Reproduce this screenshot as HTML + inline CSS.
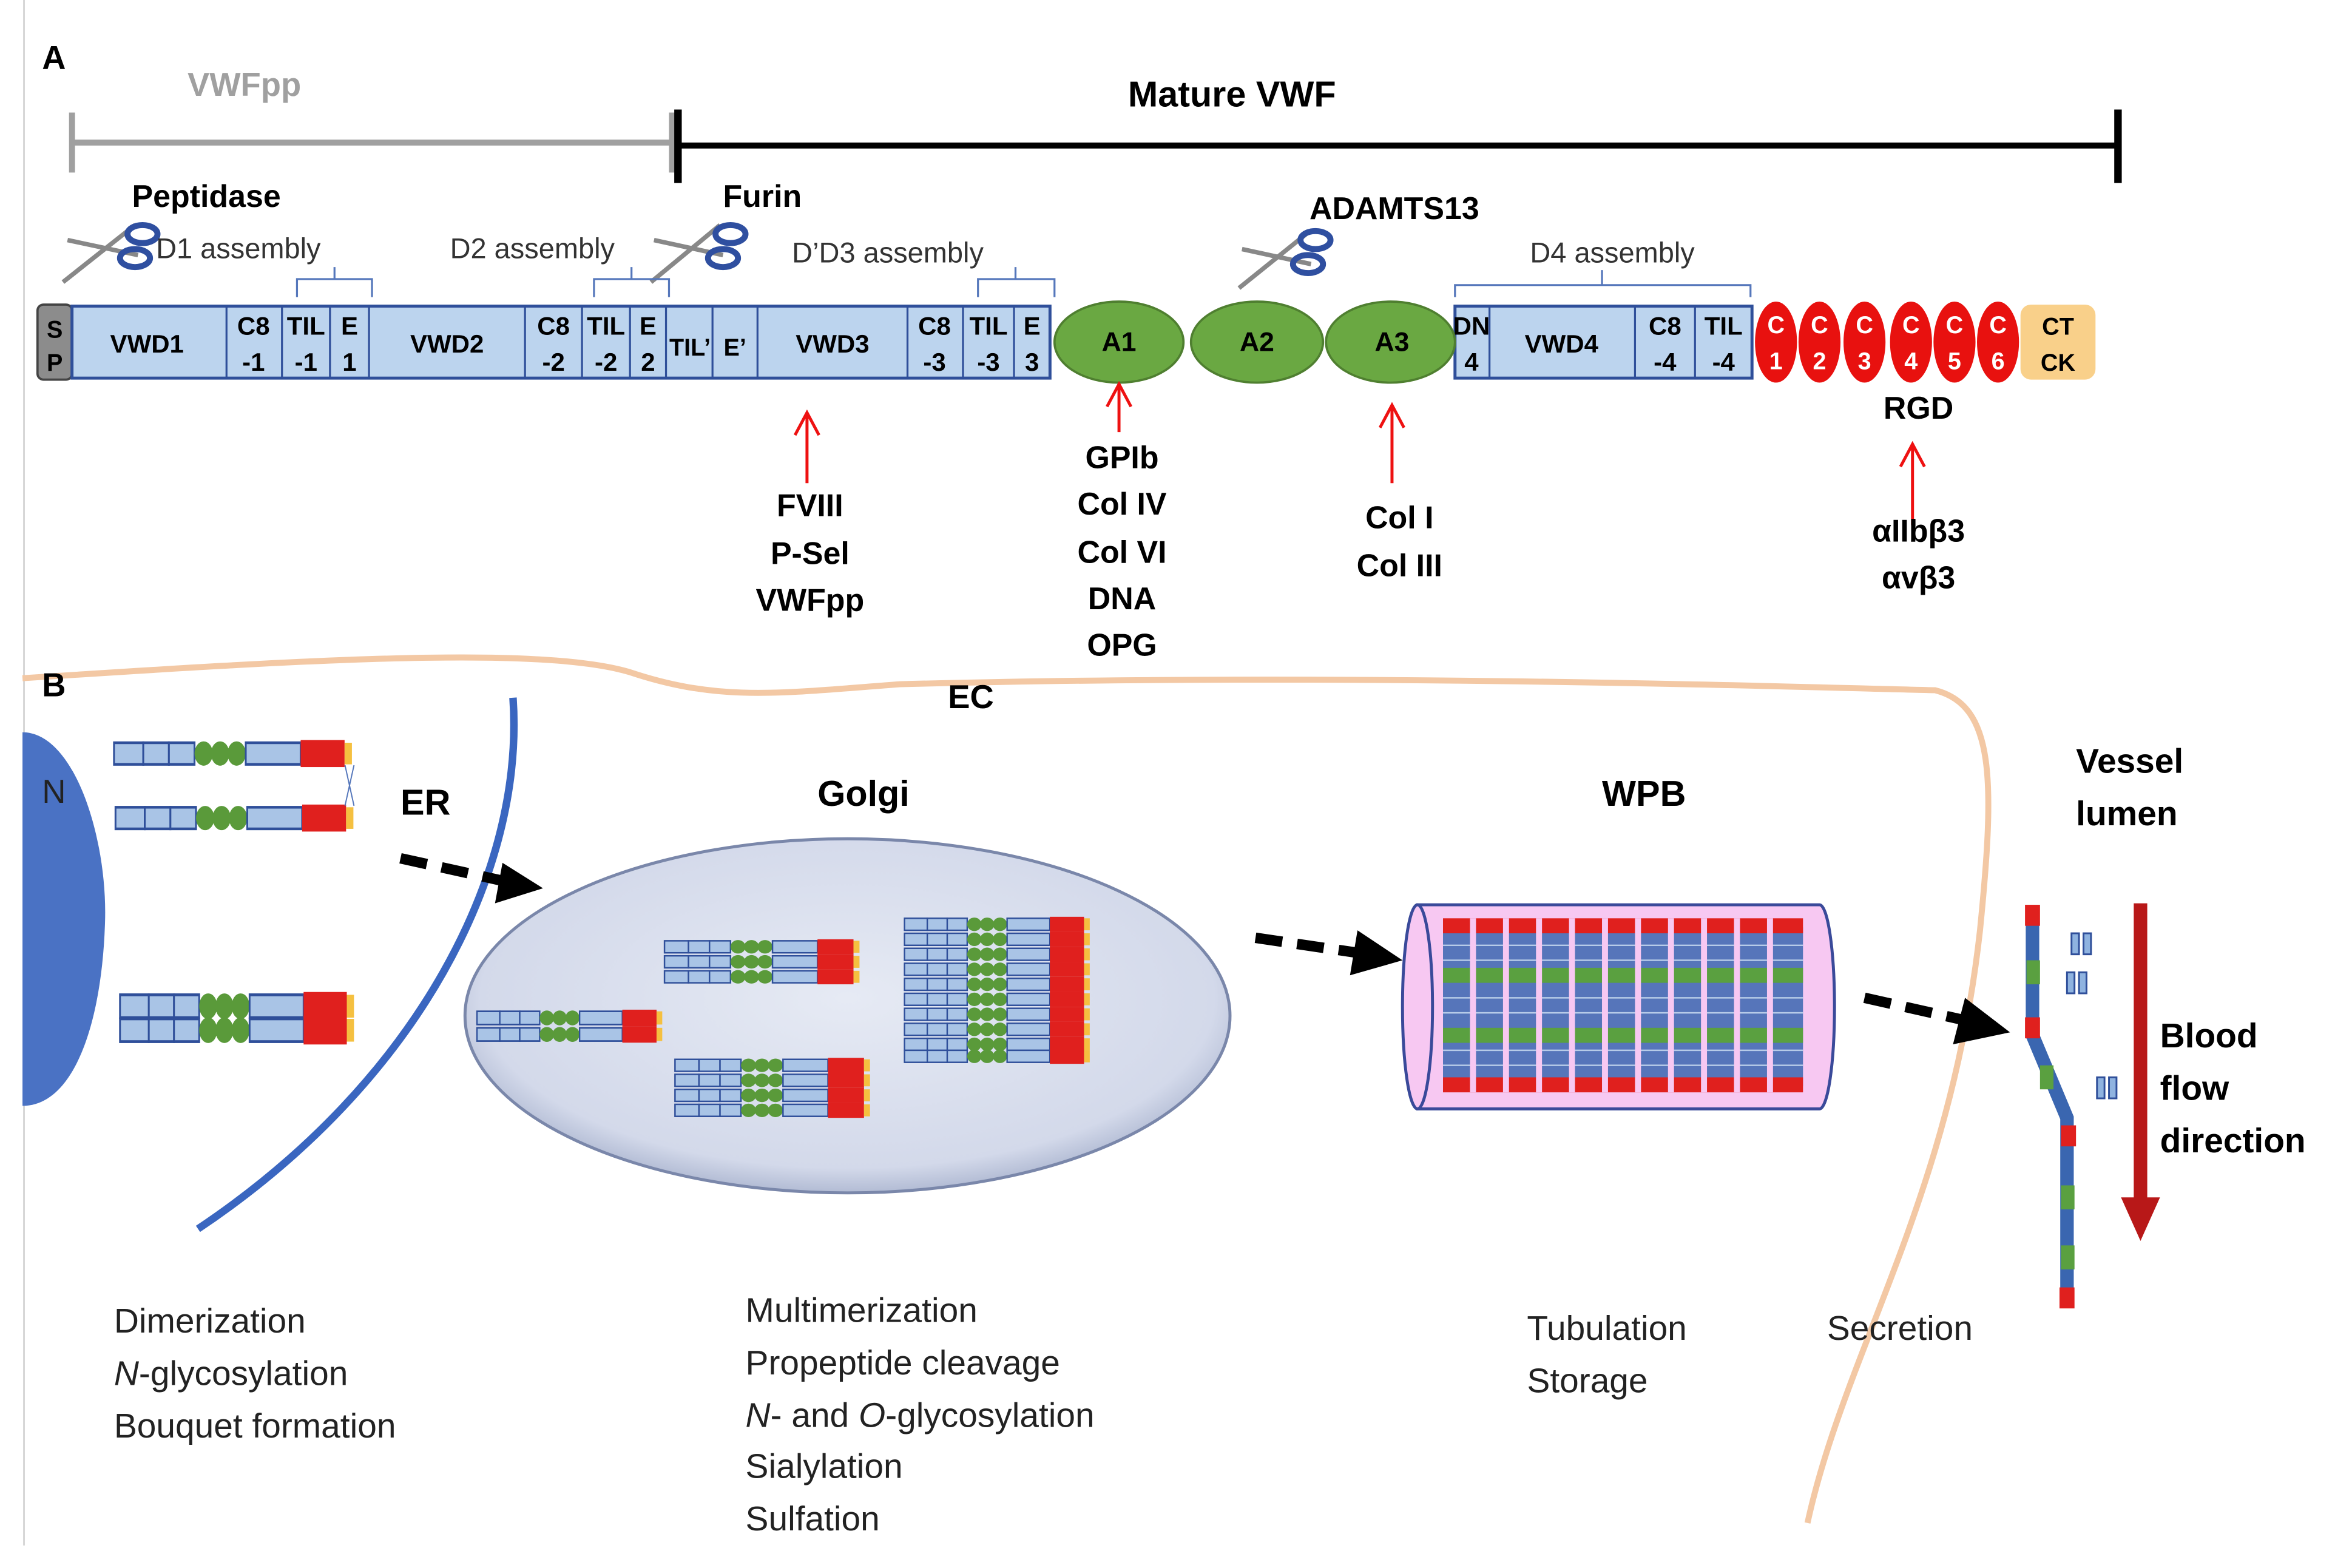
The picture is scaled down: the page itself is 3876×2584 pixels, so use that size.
<!DOCTYPE html>
<html><head><meta charset="utf-8"><style>
html,body{margin:0;padding:0;background:#fff;}
svg{display:block;}
text{font-family:"Liberation Sans",sans-serif;}
.b{font-weight:bold;}
</style></head><body>
<svg width="3876" height="2584" viewBox="0 0 1568 1045" preserveAspectRatio="none" xmlns="http://www.w3.org/2000/svg">
<defs>
<radialGradient id="gg" cx="0.5" cy="0.45" r="0.6"><stop offset="0" stop-color="#e6eaf4"/><stop offset="0.8" stop-color="#d3d9ea"/><stop offset="1" stop-color="#9aa6c4"/></radialGradient>
<g id="mol">
<rect x="0" y="0" width="16" height="8" fill="#a9c4e6" stroke="#2f4f9a" stroke-width="1"/>
<rect x="16" y="0" width="14" height="8" fill="#a9c4e6" stroke="#2f4f9a" stroke-width="1"/>
<rect x="30" y="0" width="14" height="8" fill="#a9c4e6" stroke="#2f4f9a" stroke-width="1"/>
<ellipse cx="49" cy="4" rx="5" ry="4.5" fill="#5a9a3a"/><ellipse cx="58" cy="4" rx="5" ry="4.5" fill="#5a9a3a"/><ellipse cx="67" cy="4" rx="5" ry="4.5" fill="#5a9a3a"/>
<rect x="72" y="0" width="30" height="8" fill="#a9c4e6" stroke="#2f4f9a" stroke-width="1"/>
<rect x="102" y="-1" width="24" height="10" fill="#e0201e"/>
<rect x="126" y="0" width="4" height="8" fill="#f5c040"/>
</g>
</defs>
<rect width="1568" height="1045" fill="#fff"/>
<line x1="16" y1="0" x2="16" y2="1030" stroke="#ccc" stroke-width="1"/>
<text x="28" y="46" class="b" font-size="22">A</text>
<text x="125" y="64" class="b" font-size="22" fill="#a0a0a0">VWFpp</text>
<line x1="48" y1="95" x2="448" y2="95" stroke="#a0a0a0" stroke-width="4"/>
<line x1="48" y1="75" x2="48" y2="115" stroke="#a0a0a0" stroke-width="4"/>
<line x1="448" y1="75" x2="448" y2="115" stroke="#a0a0a0" stroke-width="4"/>
<text x="752" y="71" class="b" font-size="24">Mature VWF</text>
<line x1="452" y1="97" x2="1412" y2="97" stroke="#000" stroke-width="4"/>
<line x1="452" y1="73" x2="452" y2="122" stroke="#000" stroke-width="5"/>
<line x1="1412" y1="73" x2="1412" y2="122" stroke="#000" stroke-width="5"/>
<text x="88" y="138" class="b" font-size="21">Peptidase</text>
<text x="482" y="138" class="b" font-size="21">Furin</text>
<text x="873" y="146" class="b" font-size="21">ADAMTS13</text>
<g stroke="#888" stroke-width="3"><line x1="42" y1="188" x2="90" y2="150"/><line x1="45" y1="160" x2="92" y2="170"/>
<line x1="434" y1="188" x2="480" y2="150"/><line x1="436" y1="160" x2="482" y2="170"/>
<line x1="826" y1="192" x2="872" y2="155"/><line x1="828" y1="166" x2="874" y2="176"/></g>
<g fill="none" stroke="#2f4fa0" stroke-width="4"><ellipse cx="95" cy="156" rx="10" ry="6"/><ellipse cx="90" cy="172" rx="10" ry="6"/>
<ellipse cx="487" cy="156" rx="10" ry="6"/><ellipse cx="482" cy="172" rx="10" ry="6"/>
<ellipse cx="877" cy="160" rx="10" ry="6"/><ellipse cx="872" cy="176" rx="10" ry="6"/></g>
<g font-size="19" fill="#333"><text x="104" y="172">D1 assembly</text><text x="300" y="172">D2 assembly</text><text x="528" y="175">D’D3 assembly</text><text x="1020" y="175">D4 assembly</text></g>
<g fill="none" stroke="#5577bb" stroke-width="1.3">
<path d="M198 198 V186 H248 V198 M223 186 V178"/>
<path d="M396 198 V186 H446 V198 M421 186 V178"/>
<path d="M652 198 V186 H703 V198 M677 186 V178"/>
<path d="M970 198 V190 H1167 V198 M1068 190 V180"/>
</g>
<rect x="25" y="203" width="23" height="50" rx="4" fill="#8c8c8c" stroke="#444" stroke-width="1.5"/>
<text x="36.5" y="225" class="b" font-size="16" text-anchor="middle">S</text><text x="36.5" y="247" class="b" font-size="16" text-anchor="middle">P</text>
<rect x="48" y="204" width="652" height="48" fill="#bcd4ee" stroke="#2f4f9a" stroke-width="2"/>
<rect x="970" y="204" width="198" height="48" fill="#bcd4ee" stroke="#2f4f9a" stroke-width="2"/>
<g stroke="#2f4f9a" stroke-width="1.3">
<line x1="151" y1="204" x2="151" y2="252"/><line x1="188" y1="204" x2="188" y2="252"/><line x1="220" y1="204" x2="220" y2="252"/><line x1="246" y1="204" x2="246" y2="252"/>
<line x1="350" y1="204" x2="350" y2="252"/><line x1="388" y1="204" x2="388" y2="252"/><line x1="420" y1="204" x2="420" y2="252"/><line x1="444" y1="204" x2="444" y2="252"/>
<line x1="475" y1="204" x2="475" y2="252"/><line x1="505" y1="204" x2="505" y2="252"/><line x1="605" y1="204" x2="605" y2="252"/><line x1="642" y1="204" x2="642" y2="252"/><line x1="676" y1="204" x2="676" y2="252"/>
<line x1="993" y1="204" x2="993" y2="252"/><line x1="1090" y1="204" x2="1090" y2="252"/><line x1="1130" y1="204" x2="1130" y2="252"/>
</g>
<g class="b" font-size="17" text-anchor="middle">
<text x="98" y="235">VWD1</text>
<text x="169" y="223">C8</text><text x="169" y="247">-1</text>
<text x="204" y="223">TIL</text><text x="204" y="247">-1</text>
<text x="233" y="223">E</text><text x="233" y="247">1</text>
<text x="298" y="235">VWD2</text>
<text x="369" y="223">C8</text><text x="369" y="247">-2</text>
<text x="404" y="223">TIL</text><text x="404" y="247">-2</text>
<text x="432" y="223">E</text><text x="432" y="247">2</text>
<text x="460" y="237" font-size="16">TIL’</text><text x="490" y="237" font-size="16">E’</text>
<text x="555" y="235">VWD3</text>
<text x="623" y="223">C8</text><text x="623" y="247">-3</text>
<text x="659" y="223">TIL</text><text x="659" y="247">-3</text>
<text x="688" y="223">E</text><text x="688" y="247">3</text>
<text x="981" y="223">DN</text><text x="981" y="247">4</text>
<text x="1041" y="235">VWD4</text>
<text x="1110" y="223">C8</text><text x="1110" y="247">-4</text>
<text x="1149" y="223">TIL</text><text x="1149" y="247">-4</text>
</g>
<g fill="#6aa842" stroke="#4f7f30" stroke-width="1.5"><ellipse cx="746" cy="228" rx="43" ry="27"/><ellipse cx="838" cy="228" rx="44" ry="27"/><ellipse cx="927" cy="228" rx="43" ry="27"/></g>
<g class="b" font-size="18" text-anchor="middle"><text x="746" y="234">A1</text><text x="838" y="234">A2</text><text x="928" y="234">A3</text></g>
<g fill="#e8110f"><ellipse cx="1184" cy="228" rx="14" ry="27"/><ellipse cx="1213" cy="228" rx="14" ry="27"/><ellipse cx="1243" cy="228" rx="14" ry="27"/><ellipse cx="1274" cy="228" rx="14" ry="27"/><ellipse cx="1303" cy="228" rx="14" ry="27"/><ellipse cx="1332" cy="228" rx="14" ry="27"/></g>
<g class="b" font-size="16" text-anchor="middle" fill="#fff">
<text x="1184" y="222">C</text><text x="1184" y="246">1</text><text x="1213" y="222">C</text><text x="1213" y="246">2</text><text x="1243" y="222">C</text><text x="1243" y="246">3</text>
<text x="1274" y="222">C</text><text x="1274" y="246">4</text><text x="1303" y="222">C</text><text x="1303" y="246">5</text><text x="1332" y="222">C</text><text x="1332" y="246">6</text></g>
<rect x="1347" y="203" width="50" height="50" rx="7" fill="#f9d08a"/>
<text x="1372" y="223" class="b" font-size="16" text-anchor="middle">CT</text><text x="1372" y="247" class="b" font-size="16" text-anchor="middle">CK</text>
<g stroke="#ee1111" stroke-width="2" fill="none">
<path d="M538 322 V275 M530 290 L538 275 L546 290"/>
<path d="M746 288 V256 M738 271 L746 256 L754 271"/>
<path d="M928 322 V270 M920 285 L928 270 L936 285"/>
<path d="M1275 350 V296 M1267 311 L1275 296 L1283 311"/>
</g>
<g class="b" font-size="21" text-anchor="middle">
<text x="540" y="344">FVIII</text><text x="540" y="376">P-Sel</text><text x="540" y="407">VWFpp</text>
<text x="748" y="312">GPIb</text><text x="748" y="343">Col IV</text><text x="748" y="375">Col VI</text><text x="748" y="406">DNA</text><text x="748" y="437">OPG</text>
<text x="933" y="352">Col I</text><text x="933" y="384">Col III</text>
<text x="1279" y="279">RGD</text><text x="1279" y="361">αIIbβ3</text><text x="1279" y="392">αvβ3</text>
</g>
<!-- section B -->
<path d="M15 452 C200 440 360 430 420 448 C480 468 520 462 600 456 C900 448 1200 458 1290 460 C1330 470 1330 520 1320 620 C1300 800 1230 900 1205 1015" fill="none" stroke="#f3c8a4" stroke-width="4"/>
<text x="28" y="464" class="b" font-size="22">B</text>
<text x="632" y="472" class="b" font-size="22">EC</text>
<path d="M15 488 C50 488 72 560 70 615 C68 680 50 737 15 737 Z" fill="#4a72c4"/>
<text x="28" y="535" font-size="22" fill="#222">N</text>
<path d="M342 465 C350 580 280 720 132 819" fill="none" stroke="#3a66c0" stroke-width="5"/>
<text x="267" y="543" class="b" font-size="24">ER</text>
<g transform="translate(76,495) scale(1.22,1.8)"><use href="#mol"/></g>
<g transform="translate(77,538) scale(1.22,1.8)"><use href="#mol"/></g>
<path d="M230 510 L236 537 M236 510 L230 537" stroke="#5577bb" stroke-width="0.8"/>
<g transform="translate(80,663) scale(1.2,1.9)"><use href="#mol"/></g>
<g transform="translate(80,679) scale(1.2,1.9)"><use href="#mol"/></g>
<g stroke="#000" stroke-width="7" stroke-dasharray="18,10"><line x1="267" y1="572" x2="335" y2="587"/><line x1="837" y1="625" x2="905" y2="635"/><line x1="1243" y1="665" x2="1310" y2="680"/></g>
<polygon points="335,575 362,592 330,602" fill="#000"/>
<polygon points="905,620 935,640 900,650" fill="#000"/>
<polygon points="1310,665 1340,688 1302,696" fill="#000"/>
<text x="545" y="537" class="b" font-size="24">Golgi</text>
<ellipse cx="565" cy="677" rx="255" ry="118" fill="url(#gg)" stroke="#7a87aa" stroke-width="2"/>
<g transform="translate(318,674) scale(0.95,1.1)"><use href="#mol" y="0"/><use href="#mol" y="10"/></g>
<g transform="translate(443,627)"><use href="#mol" y="0"/><use href="#mol" y="10"/><use href="#mol" y="20"/></g>
<g transform="translate(450,706)"><use href="#mol" y="0"/><use href="#mol" y="10"/><use href="#mol" y="20"/><use href="#mol" y="30"/></g>
<g transform="translate(603,612) scale(0.95,1)">
<use href="#mol" y="0"/><use href="#mol" y="10"/><use href="#mol" y="20"/><use href="#mol" y="30"/><use href="#mol" y="40"/><use href="#mol" y="50"/><use href="#mol" y="60"/><use href="#mol" y="70"/><use href="#mol" y="80"/><use href="#mol" y="88"/>
</g>
<text x="1068" y="537" class="b" font-size="24">WPB</text>
<path d="M945 603 H1213 A10 68 0 0 1 1213 739 H945 Z" fill="#f7c8f2" stroke="#3a4a9a" stroke-width="2"/>
<ellipse cx="945" cy="671" rx="10" ry="68" fill="#f7c8f2" stroke="#3a4a9a" stroke-width="2"/>
<g>
<rect x="962" y="618" width="240" height="106" fill="#3a66b0" opacity="0.85"/>
<g fill="#5aa040"><rect x="962" y="645" width="240" height="10"/><rect x="962" y="685" width="240" height="10"/></g>
<g fill="#e0201e"><rect x="962" y="612" width="240" height="10"/><rect x="962" y="718" width="240" height="10"/></g>
<g stroke="#b7cbe8" stroke-width="1"><line x1="962" y1="630" x2="1202" y2="630"/><line x1="962" y1="640" x2="1202" y2="640"/><line x1="962" y1="665" x2="1202" y2="665"/><line x1="962" y1="675" x2="1202" y2="675"/><line x1="962" y1="700" x2="1202" y2="700"/><line x1="962" y1="710" x2="1202" y2="710"/></g>
<g stroke="#f7c8f2" stroke-width="4"><line x1="982" y1="612" x2="982" y2="728"/><line x1="1004" y1="612" x2="1004" y2="728"/><line x1="1026" y1="612" x2="1026" y2="728"/><line x1="1048" y1="612" x2="1048" y2="728"/><line x1="1070" y1="612" x2="1070" y2="728"/><line x1="1092" y1="612" x2="1092" y2="728"/><line x1="1114" y1="612" x2="1114" y2="728"/><line x1="1136" y1="612" x2="1136" y2="728"/><line x1="1158" y1="612" x2="1158" y2="728"/><line x1="1180" y1="612" x2="1180" y2="728"/></g>
</g>
<path d="M1355 605 V690 L1378 745 V870" fill="none" stroke="#3a66b0" stroke-width="9"/>
<g fill="#5aa040"><rect x="1351" y="640" width="9" height="16"/><rect x="1360" y="710" width="9" height="16"/><rect x="1374" y="790" width="9" height="16"/><rect x="1374" y="830" width="9" height="16"/></g>
<g fill="#e0201e"><rect x="1350" y="603" width="10" height="14"/><rect x="1350" y="678" width="10" height="14"/><rect x="1374" y="750" width="10" height="14"/><rect x="1373" y="858" width="10" height="14"/></g>
<g fill="#8fb3e0" stroke="#2f4f9a" stroke-width="1.2"><rect x="1381" y="622" width="5" height="14"/><rect x="1389" y="622" width="5" height="14"/><rect x="1378" y="648" width="5" height="14"/><rect x="1386" y="648" width="5" height="14"/><rect x="1398" y="718" width="5" height="14"/><rect x="1406" y="718" width="5" height="14"/></g>
<text x="1384" y="515" class="b" font-size="23">Vessel</text><text x="1384" y="550" class="b" font-size="23">lumen</text>
<line x1="1427" y1="602" x2="1427" y2="800" stroke="#b81818" stroke-width="9"/>
<polygon points="1414,798 1440,798 1427,827" fill="#b81818"/>
<text x="1440" y="698" class="b" font-size="23">Blood</text><text x="1440" y="733" class="b" font-size="23">flow</text><text x="1440" y="768" class="b" font-size="23">direction</text>
<g font-size="23" fill="#222">
<text x="76" y="888">Dimerization</text><text x="76" y="923"><tspan font-style="italic">N</tspan>-glycosylation</text><text x="76" y="958">Bouquet formation</text>
<text x="497" y="881">Multimerization</text><text x="497" y="916">Propeptide cleavage</text><text x="497" y="951"><tspan font-style="italic">N</tspan>- and <tspan font-style="italic">O</tspan>-glycosylation</text><text x="497" y="985">Sialylation</text><text x="497" y="1020">Sulfation</text>
<text x="1018" y="893">Tubulation</text><text x="1018" y="928">Storage</text>
<text x="1218" y="893">Secretion</text>
</g>
</svg>
</body></html>
